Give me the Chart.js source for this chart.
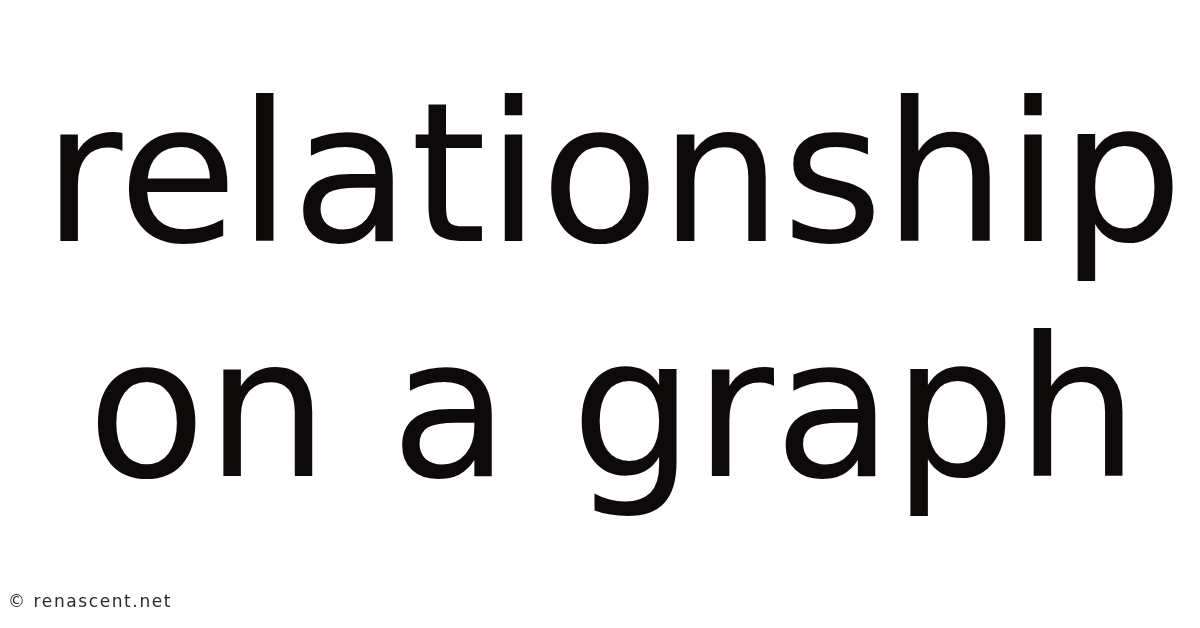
<!DOCTYPE html>
<html lang="en">
<head>
<meta charset="utf-8">
<title>relationship on a graph</title>
<script src="https://cdn.jsdelivr.net/npm/chart.js@4/dist/chart.umd.min.js"></script>
<style>
    html, body { margin: 0; padding: 0; background: #ffffff; overflow: hidden; }
    #wrap { position: relative; width: 1218px; height: 628px; }
    .source-note {
        position: absolute;
        left: 8px;
        top: 593px;
        font-family: 'DejaVu Sans', sans-serif;
        font-size: 17px;
        line-height: 17px;
        letter-spacing: 1.6px;
        color: #2a2a2a;
        white-space: nowrap;
    }
</style>
</head>
<body>
<div id="wrap">
    <canvas id="headline-chart" role="img" aria-label="relationship on a graph"></canvas>
</div>
<div class="source-note" id="source-note"></div>
<script>
// text shown on the card
const headlineLines = ['relationship', 'on a graph'];
const sourceNote = '© renascent.net';

// empty chart: no categories, no series
const categories = [];
const seriesValues = [];

const inkColor = '#0f0a0a';

document.addEventListener('DOMContentLoaded', function() {
    const ctx = document.getElementById('headline-chart');
    document.getElementById('source-note').textContent = sourceNote;

    new Chart(ctx, {
        type: 'line',
        data: {
            labels: categories,
            datasets: [{ data: seriesValues, borderWidth: 0, pointRadius: 0 }]
        },
        options: {
            responsive: true,
            maintainAspectRatio: false,
            animation: false,
            events: [],
            layout: { padding: { left: 8, right: 0, top: 0, bottom: 0 } },
            scales: {
                x: { display: false },
                y: { display: false }
            },
            plugins: {
                legend: { display: false },
                tooltip: { enabled: false },
                title: {
                    display: true,
                    text: headlineLines,
                    color: inkColor,
                    align: 'center',
                    font: { family: "'DejaVu Sans'", size: 194, weight: 'normal', lineHeight: 1.211 },
                    padding: { top: 73, bottom: 0 }
                }
            }
        }
    });
});
</script>
</body>
</html>
